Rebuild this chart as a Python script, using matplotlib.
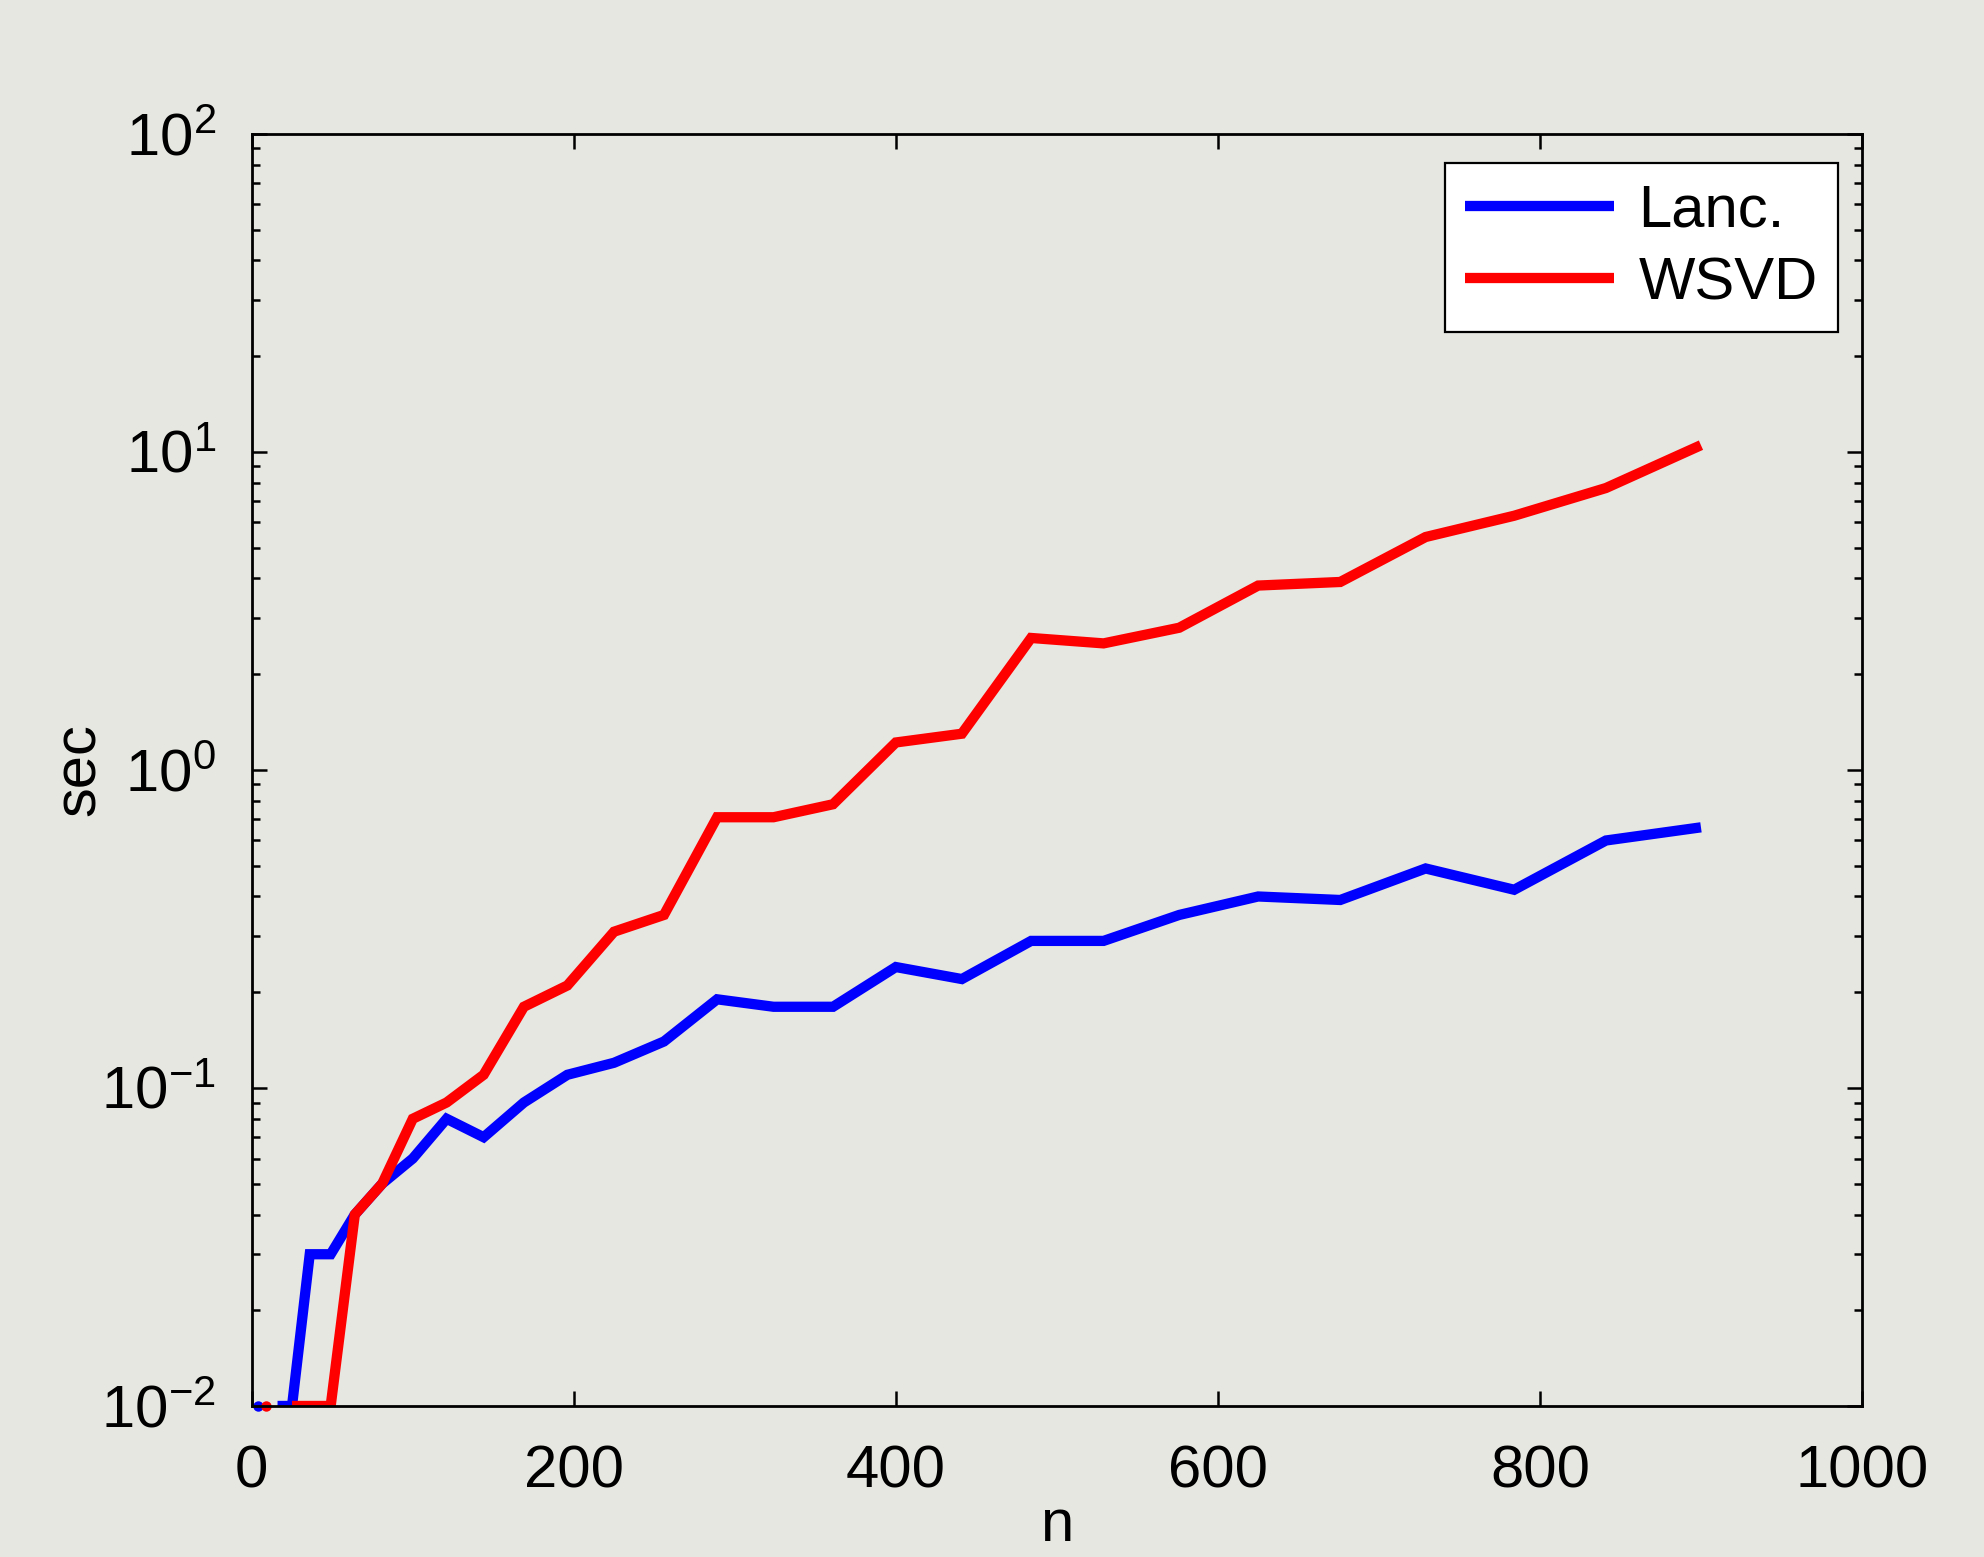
import numpy as np
import matplotlib
matplotlib.use('Agg')
import matplotlib.pyplot as plt

plt.rcParams['font.family'] = ['Liberation Sans', 'DejaVu Sans']
plt.rcParams['mathtext.fontset'] = 'custom'
plt.rcParams['mathtext.rm'] = 'Liberation Sans'
plt.rcParams['mathtext.it'] = 'Liberation Sans:italic'
plt.rcParams['mathtext.bf'] = 'Liberation Sans:bold'

# n = k^2, timings in seconds (0 = below timer resolution)
n = [1, 4, 9, 16, 25, 36, 49, 64, 81, 100, 121, 144, 169, 196, 225, 256,
     289, 324, 361, 400, 441, 484, 529, 576, 625, 676, 729, 784, 841, 900]
lanc = [0, 0.01, 0, 0.01, 0.01, 0.03, 0.03, 0.04, 0.05, 0.06, 0.08, 0.07,
        0.09, 0.11, 0.12, 0.14, 0.19, 0.18, 0.18, 0.24, 0.22, 0.29, 0.29,
        0.35, 0.40, 0.39, 0.49, 0.42, 0.60, 0.66]
wsvd = [0, 0, 0.01, 0, 0.01, 0.01, 0.01, 0.04, 0.05, 0.08, 0.09, 0.11,
        0.18, 0.21, 0.31, 0.35, 0.71, 0.71, 0.78, 1.22, 1.30, 2.6, 2.5,
        2.8, 3.8, 3.9, 5.4, 6.3, 7.7, 10.5]

bg = '#e6e7e1'
fig = plt.figure(figsize=(19.84, 15.57), dpi=100, facecolor=bg)
ax = fig.add_axes([0.1269, 0.097, 0.8116, 0.817])
ax.set_facecolor(bg)
ax.set_yscale('log', nonpositive='mask')

def draw(y, color, label):
    y = np.array(y, dtype=float)
    ax.plot(n, y, color=color, lw=7.4, solid_capstyle='butt',
            solid_joinstyle='miter', label=label)
    # isolated points (neighbours zero) show as dots
    for i in range(len(y)):
        left = y[i-1] if i > 0 else 0
        right = y[i+1] if i < len(y)-1 else 0
        if y[i] > 0 and left == 0 and right == 0:
            ax.plot([n[i]], [y[i]], 'o', color=color, ms=7.5, mew=0,
                    clip_on=False)

draw(lanc, '#0000ff', 'Lanc.')
draw(wsvd, '#ff0000', 'WSVD')

ax.set_xlim(0, 1000)
ax.set_ylim(1e-2, 1e2)
ax.set_xticks([0, 200, 400, 600, 800, 1000])

for s in ax.spines.values():
    s.set_linewidth(2)
ax.tick_params(which='both', direction='in', top=True, right=True,
               width=1.8, labelsize=43)
ax.tick_params(which='major', length=11)
ax.tick_params(which='minor', length=6)
ax.tick_params(axis='x', pad=28)
ax.tick_params(axis='y', pad=26)

ax.set_xlabel('n', fontsize=43)
ax.xaxis.set_label_coords(0.5, -0.1065)
ax.xaxis.label.set_va('baseline')
ax.set_ylabel('sec', fontsize=43)
ax.yaxis.set_label_coords(-0.0975, 0.5)
ax.yaxis.label.set_va('baseline')

leg = ax.legend(loc='upper right', bbox_to_anchor=(0.985, 0.977),
                borderaxespad=0, fontsize=43, fancybox=False,
                framealpha=1, edgecolor='black', facecolor='white',
                handlelength=2.5, handletextpad=0.4, borderpad=0.34,
                labelspacing=0.3)
leg.get_frame().set_linewidth(1.6)

fig.savefig('out.png', dpi=100, facecolor=bg)
